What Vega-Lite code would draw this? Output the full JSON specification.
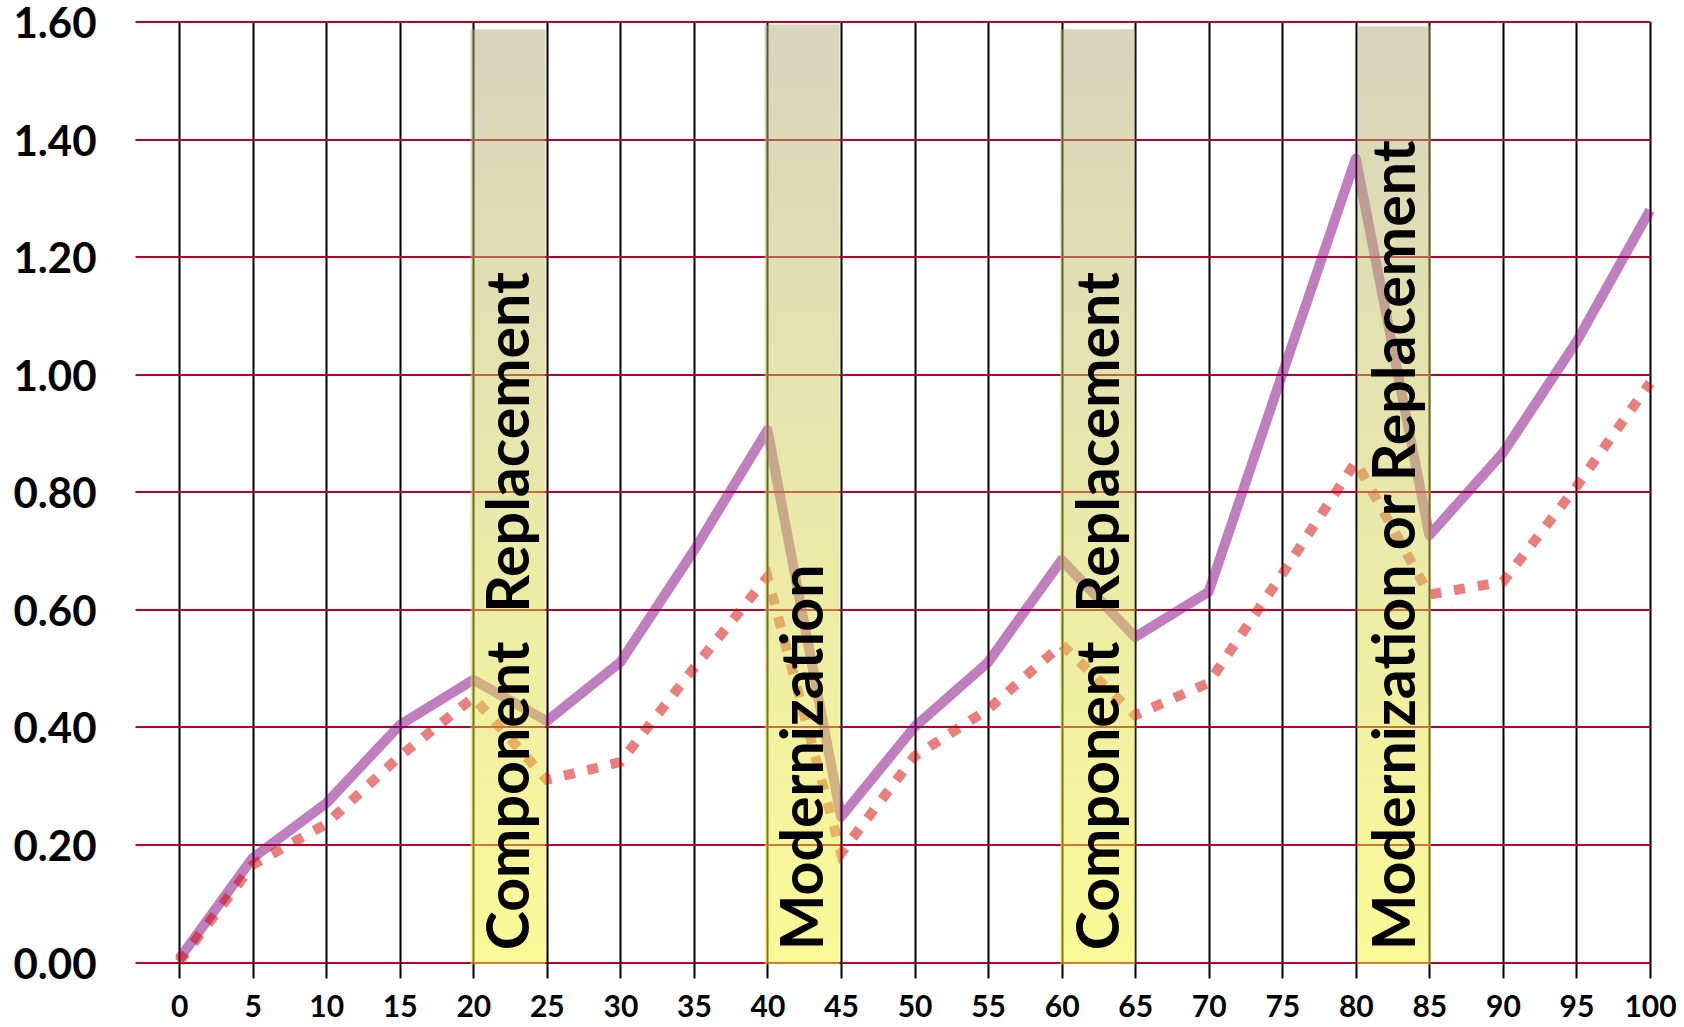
{
  "$schema": "https://vega.github.io/schema/vega-lite/v6.json",
  "width": 1515,
  "height": 940.5,
  "autosize": "none",
  "padding": {"left": 135, "top": 21.5, "right": 34, "bottom": 65},
  "background": "white",
  "config": {"view": {"stroke": null}, "font": "Lato"},
  "datasets": {
    "costs": [
      {"age": 0, "a": 0.005, "b": 0.0},
      {"age": 5, "a": 0.177, "b": 0.165},
      {"age": 10, "a": 0.27, "b": 0.235},
      {"age": 15, "a": 0.403, "b": 0.35},
      {"age": 20, "a": 0.48, "b": 0.45},
      {"age": 25, "a": 0.41, "b": 0.31},
      {"age": 30, "a": 0.51, "b": 0.34},
      {"age": 35, "a": 0.7, "b": 0.5},
      {"age": 40, "a": 0.905, "b": 0.655},
      {"age": 45, "a": 0.247, "b": 0.185},
      {"age": 50, "a": 0.4, "b": 0.35},
      {"age": 55, "a": 0.51, "b": 0.43},
      {"age": 60, "a": 0.684, "b": 0.54},
      {"age": 65, "a": 0.553, "b": 0.42},
      {"age": 70, "a": 0.63, "b": 0.475},
      {"age": 75, "a": 1.0, "b": 0.66},
      {"age": 80, "a": 1.367, "b": 0.851},
      {"age": 85, "a": 0.726, "b": 0.625},
      {"age": 90, "a": 0.866, "b": 0.647},
      {"age": 95, "a": 1.055, "b": 0.809},
      {"age": 100, "a": 1.279, "b": 0.985}
    ],
    "bands": [
      {"start": 19.8, "end": 24.9, "top": 1.587, "mid": 22.35, "label": "Component \u00a0Replacement"},
      {"start": 39.8, "end": 44.9, "top": 1.595, "mid": 42.35, "label": "Modernization"},
      {"start": 59.9, "end": 65.0, "top": 1.587, "mid": 62.45, "label": "Component \u00a0Replacement"},
      {"start": 80.1, "end": 85.1, "top": 1.592, "mid": 82.6, "label": "Modernization or Replacement"}
    ]
  },
  "layer": [
    {
      "data": {"name": "costs"},
      "mark": {"type": "line", "stroke": "#800080", "opacity": 0.5, "strokeWidth": 10, "strokeCap": "butt", "strokeJoin": "round", "clip": false},
      "encoding": {
        "x": {
          "field": "age", "type": "quantitative",
          "scale": {"domain": [-3, 100], "nice": false, "zero": false},
          "axis": {
            "title": null, "values": [0,5,10,15,20,25,30,35,40,45,50,55,60,65,70,75,80,85,90,95,100],
            "grid": true, "gridColor": "#000000", "gridWidth": 2, "gridOpacity": 1,
            "domain": false, "ticks": true, "tickColor": "#000000", "tickWidth": 2, "tickSize": 16,
            "labelFont": "Lato", "labelFontWeight": "bold", "labelFontSize": 30, "labelColor": "#000000",
            "labelPadding": 14, "labelFlush": false, "labelOverlap": false
          }
        },
        "y": {
          "field": "a", "type": "quantitative",
          "scale": {"domain": [0, 1.6], "nice": false, "zero": false},
          "axis": {
            "title": null, "values": [0,0.2,0.4,0.6,0.8,1.0,1.2,1.4,1.6], "format": ".2f",
            "grid": true, "gridColor": "#B8002C", "gridWidth": 2, "gridOpacity": 1,
            "domain": false, "ticks": false, "tickSize": 0,
            "labelFont": "Lato", "labelFontWeight": "bold", "labelFontSize": 42, "labelColor": "#000000",
            "labelAlign": "left", "labelBaseline": "middle", "labelPadding": 122, "labelOffset": 3,
            "labelFlush": false, "labelOverlap": false
          }
        }
      }
    },
    {
      "data": {"name": "costs"},
      "mark": {"type": "line", "stroke": "#D20000", "opacity": 0.5, "strokeWidth": 10, "strokeDash": [11, 13], "strokeCap": "butt", "clip": false},
      "encoding": {
        "x": {"field": "age", "type": "quantitative"},
        "y": {"field": "b", "type": "quantitative"}
      }
    },
    {
      "data": {"name": "bands"},
      "mark": {
        "type": "rect", "opacity": 0.5,
        "fill": {"gradient": "linear", "x1": 0, "y1": 0, "x2": 0, "y2": 1,
          "stops": [{"offset": 0, "color": "#ADAB7B"}, {"offset": 0.5, "color": "#D2D156"}, {"offset": 1, "color": "#F5F531"}]}
      },
      "encoding": {
        "x": {"field": "start", "type": "quantitative"},
        "x2": {"field": "end"},
        "y": {"field": "top", "type": "quantitative"},
        "y2": {"datum": -0.004}
      }
    },
    {
      "data": {"name": "bands"},
      "mark": {"type": "text", "angle": 270, "align": "left", "baseline": "alphabetic", "dy": 21,
        "font": "Lato", "fontWeight": "bold", "fontSize": 59, "color": "#000000"},
      "encoding": {
        "x": {"field": "mid", "type": "quantitative"},
        "y": {"datum": 0.02},
        "text": {"field": "label"}
      }
    }
  ]
}
